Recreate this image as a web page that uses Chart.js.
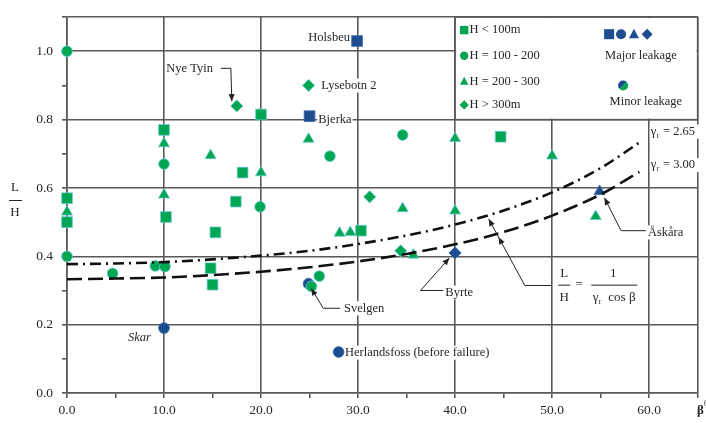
<!DOCTYPE html>
<html><head><meta charset="utf-8">
<script src="https://cdn.jsdelivr.net/npm/chart.js@4/dist/chart.umd.min.js"></script>
<style>html,body{margin:0;padding:0;background:#fff}canvas{display:block}</style>
</head><body>
<canvas id="c" width="706" height="423"></canvas>
<script>
// ---- data (β in degrees, L/H) ----
const sqX = [0, 0, 10, 10.2, 14.8, 15.0, 15.3, 17.4, 18.1, 20, 30.3, 44.7];
const sqY = [0.57, 0.50, 0.77, 0.515, 0.365, 0.317, 0.47, 0.56, 0.645, 0.815, 0.475, 0.75];
const ciX = [0, 0, 4.7, 9.1, 10.1, 10, 19.9, 25.2, 26.0, 27.1, 34.6];
const ciY = [1.0, 0.40, 0.35, 0.372, 0.37, 0.67, 0.545, 0.312, 0.342, 0.693, 0.755];
const trX = [0, 10, 10, 14.8, 20, 24.9, 28.1, 29.2, 35.7, 34.6, 40, 40, 50, 54.5];
const trY = [0.53, 0.73, 0.58, 0.695, 0.645, 0.743, 0.468, 0.47, 0.404, 0.54, 0.533, 0.745, 0.694, 0.517];
const diX = [17.5, 24.9, 31.2, 34.4];
const diY = [0.84, 0.90, 0.574, 0.416];
const majSqX = [29.9, 25.0];
const majSqY = [1.03, 0.81];
const majCiX = [10.0, 28.0, 24.9];
const majCiY = [0.19, 0.12, 0.32];
const majTrX = [54.9];
const majTrY = [0.59];
const majDiX = [40.0];
const majDiY = [0.41];
const curveBeta = [0, 5, 10, 15, 20, 25, 30, 35, 40, 45, 50, 55, 59];
const curveG265 = [0.377, 0.379, 0.383, 0.391, 0.402, 0.416, 0.436, 0.461, 0.493, 0.534, 0.587, 0.658, 0.733];
const curveG300 = [0.333, 0.335, 0.338, 0.345, 0.355, 0.368, 0.385, 0.407, 0.435, 0.471, 0.519, 0.581, 0.647];
const xTickLabels = ['0.0', '10.0', '20.0', '30.0', '40.0', '50.0', '60.0'];
const yTickLabels = ['0.0', '0.2', '0.4', '0.6', '0.8', '1.0'];

const GREEN = '#00a651';
const BLUE = '#1d4d8f';
const GRID = '#595959';
const TXT = '#262626';
const SERIF = '"Liberation Serif","DejaVu Serif",serif';

const pts = (xs, ys) => xs.map((x, i) => ({x, y: ys[i]}));

function marker(xs, ys, style, r, color, order, label) {
  return {label, type: 'scatter', data: pts(xs, ys), pointStyle: style, pointRadius: r, pointHoverRadius: r,
    backgroundColor: color, borderColor: color === GREEN ? '#6fc9d6' : '#3a6db0', borderWidth: 0.8, order, clip: false};
}

const annot = {
  id: 'annot',
  beforeDatasetsDraw(chart) {
    const {ctx} = chart; const xs = chart.scales.x, ys = chart.scales.y;
    const X = v => xs.getPixelForValue(v), Y = v => ys.getPixelForValue(v);
    ctx.save();
    // legend box
    const lx0 = X(40), lx1 = X(65), ly0 = Y(1.1), ly1 = Y(0.8);
    ctx.fillStyle = '#fff'; ctx.fillRect(lx0 + 1, ly0 + 1, lx1 - lx0 - 2, ly1 - ly0 - 2);
    ctx.strokeStyle = GRID; ctx.lineWidth = 1.5; ctx.strokeRect(lx0, ly0, lx1 - lx0, ly1 - ly0);
    const rows = [['rect', 'H < 100m', 1.062], ['circle', 'H = 100 - 200', 0.987], ['triangle', 'H = 200 - 300', 0.912], ['rectRot', 'H > 300m', 0.843]];
    ctx.font = '12.5px ' + SERIF; ctx.textBaseline = 'middle';
    rows.forEach(r => {
      shape(ctx, r[0], X(40.94), Y(r[2]), 4.2, GREEN);
      ctx.fillStyle = TXT; ctx.textAlign = 'left'; ctx.fillText(r[1], X(41.5), Y(r[2]));
    });
    ['rect', 'circle', 'triangle', 'rectRot'].forEach((s, i) => shape(ctx, s, X([55.88, 57.11, 58.44, 59.8][i]), Y(1.05), 5, BLUE));
    ctx.fillStyle = TXT; ctx.textAlign = 'center';
    ctx.fillText('Major leakage', X(59.16), Y(0.987));
    ctx.fillText('Minor leakage', X(59.67), Y(0.851));
    // minor leakage icon
    const mx = X(57.32), my = Y(0.900);
    ctx.beginPath(); ctx.moveTo(mx, my); ctx.arc(mx, my, 5, Math.PI * 0.75, Math.PI * 1.75); ctx.closePath(); ctx.fillStyle = BLUE; ctx.fill();
    ctx.beginPath(); ctx.moveTo(mx, my); ctx.arc(mx, my, 5, -Math.PI * 0.25, Math.PI * 0.75); ctx.closePath(); ctx.fillStyle = GREEN; ctx.fill();

    // text labels
    const labels = [
      ['Holsbeu', 29.17, 1.039, 'right'],
      ['Nye Tyin', 10.24, 0.9495, 'left'],
      ['Lysebotn 2', 26.2, 0.900, 'left'],
      ['Bjerka', 25.9, 0.799, 'left'],
      ['Skar', 7.47, 0.162, 'center', true],
      ['Svelgen', 28.56, 0.248, 'left'],
      ['Herlandsfoss (before failure)', 28.66, 0.118, 'left'],
      ['Byrte', 39.0, 0.294, 'left'],
      ['Åskåra', 59.88, 0.470, 'left']
    ];
    labels.forEach(l => txt(ctx, l[0], X(l[1]), Y(l[2]), l[3], l[4]));
    // gamma labels
    [['2.65', 0.765], ['3.00', 0.667]].forEach(g => {
      const x = X(60.18), y = Y(g[1]);
      ctx.font = '12.5px ' + SERIF;
      const w = 56; ctx.fillStyle = '#fff'; ctx.fillRect(x - 1, y - 7, w, 14);
      ctx.fillStyle = TXT; ctx.textAlign = 'left'; ctx.textBaseline = 'middle';
      ctx.fillText('γ', x, y);
      ctx.font = '8px ' + SERIF; ctx.fillText('r', x + 6, y + 4);
      ctx.font = '12.5px ' + SERIF; ctx.fillText(' = ' + g[0], x + 9, y);
    });
    // formula
    const fx = X(51.25), fy = Y(0.32);
    ctx.fillStyle = '#fff'; ctx.fillRect(fx - 8, fy - 17, 85, 34);
    ctx.fillStyle = TXT; ctx.font = '13px ' + SERIF; ctx.textAlign = 'center'; ctx.textBaseline = 'middle';
    ctx.fillText('L', fx, fy - 10); ctx.fillText('H', fx, fy + 14);
    ctx.fillText('=', fx + 15, fy + 1);
    ctx.fillText('1', fx + 49, fy - 10);
    ctx.fillText('γ   cos β', fx + 50, fy + 14);
    ctx.font = '8px ' + SERIF; ctx.fillText('r', fx + 36, fy + 18);
    ctx.strokeStyle = TXT; ctx.lineWidth = 1;
    ctx.beginPath(); ctx.moveTo(fx - 6, fy + 1.5); ctx.lineTo(fx + 6, fy + 1.5); ctx.stroke();
    ctx.beginPath(); ctx.moveTo(fx + 27, fy + 1.5); ctx.lineTo(fx + 73, fy + 1.5); ctx.stroke();
    // y-axis title
    ctx.font = '13px ' + SERIF; ctx.fillStyle = TXT;
    ctx.fillText('L', 15, 188); ctx.fillText('H', 15, 213);
    ctx.beginPath(); ctx.moveTo(9, 200.5); ctx.lineTo(22, 200.5); ctx.stroke();
    // beta label
    ctx.textAlign = 'left'; ctx.font = 'bold 13px ' + SERIF; ctx.fillText('β', 697, 411);
    ctx.font = '8px ' + SERIF; ctx.fillText('0', 704, 404);
    ctx.restore();
  },
  afterDatasetsDraw(chart) {
    const {ctx} = chart; const xs = chart.scales.x, ys = chart.scales.y;
    const P = (a, b) => [xs.getPixelForValue(a), ys.getPixelForValue(b)];
    ctx.save(); ctx.strokeStyle = '#222'; ctx.fillStyle = '#222'; ctx.lineWidth = 1;
    const leaders = [
      [[15.87, 0.95], [16.89, 0.95], [16.99, 0.854]],
      [[28.15, 0.248], [26.41, 0.248], [25.18, 0.306]],
      [[38.79, 0.300], [36.44, 0.300], [39.41, 0.395]],
      [[59.67, 0.475], [57.11, 0.475], [55.4, 0.571]],
      [[49.95, 0.3146], [47.19, 0.3146], [43.47, 0.509]]
    ];
    leaders.forEach(L => {
      const p = L.map(q => P(q[0], q[1]));
      ctx.beginPath(); ctx.moveTo(p[0][0], p[0][1]);
      for (let i = 1; i < p.length; i++) ctx.lineTo(p[i][0], p[i][1]);
      ctx.stroke();
      arrow(ctx, p[p.length - 2], p[p.length - 1]);
    });
    // mid arrow on formula leader
    arrow(ctx, P(47.19, 0.3146), P(44.49, 0.456));
    ctx.restore();
  }
};

function arrow(ctx, from, to) {
  const a = Math.atan2(to[1] - from[1], to[0] - from[0]);
  const L = 7, W = 3;
  ctx.beginPath();
  ctx.moveTo(to[0], to[1]);
  ctx.lineTo(to[0] - L * Math.cos(a) + W * Math.sin(a), to[1] - L * Math.sin(a) - W * Math.cos(a));
  ctx.lineTo(to[0] - L * Math.cos(a) - W * Math.sin(a), to[1] - L * Math.sin(a) + W * Math.cos(a));
  ctx.closePath(); ctx.fill();
}

function txt(ctx, s, x, y, align, italic) {
  ctx.font = (italic ? 'italic ' : '') + '12.5px ' + SERIF;
  const w = ctx.measureText(s).width;
  const x0 = align === 'left' ? x : align === 'right' ? x - w : x - w / 2;
  ctx.fillStyle = '#fff'; ctx.fillRect(x0 - 1, y - 7, w + 2, 14);
  ctx.fillStyle = TXT; ctx.textAlign = align; ctx.textBaseline = 'middle';
  ctx.fillText(s, x, y);
}

function shape(ctx, s, x, y, r, color) {
  ctx.fillStyle = color; ctx.beginPath();
  if (s === 'rect') ctx.rect(x - r, y - r, 2 * r, 2 * r);
  else if (s === 'circle') ctx.arc(x, y, r, 0, Math.PI * 2);
  else if (s === 'triangle') { ctx.moveTo(x, y - r * 1.1); ctx.lineTo(x + r, y + r * 0.8); ctx.lineTo(x - r, y + r * 0.8); ctx.closePath(); }
  else { ctx.moveTo(x, y - r * 1.1); ctx.lineTo(x + r * 1.1, y); ctx.lineTo(x, y + r * 1.1); ctx.lineTo(x - r * 1.1, y); ctx.closePath(); }
  ctx.fill();
}

const tickGridX = c => { const v = c.tick.value; return (v % 10 === 0 || v === 65) ? GRID : 'rgba(0,0,0,0)'; };
const tickGridY = c => { const k = Math.round(c.tick.value * 10); return (k % 2 === 0 || k === 11) ? GRID : 'rgba(0,0,0,0)'; };

new Chart(document.getElementById('c'), {
  type: 'scatter',
  data: {
    datasets: [
      {label: 'γr = 2.65', type: 'line', data: pts(curveBeta, curveG265), borderColor: '#111', borderWidth: 2.6,
        borderDash: [11, 5, 2, 5], pointRadius: 0, cubicInterpolationMode: 'monotone', showLine: true, fill: false, order: 0},
      {label: 'γr = 3.00', type: 'line', data: pts(curveBeta, curveG300), borderColor: '#111', borderWidth: 2.6,
        borderDash: [15, 6], pointRadius: 0, cubicInterpolationMode: 'monotone', showLine: true, fill: false, order: 0},
      marker(sqX, sqY, 'rect', 7.6, GREEN, 2, 'H < 100m'),
      marker(ciX, ciY, 'circle', 5.4, GREEN, 2, 'H = 100 - 200'),
      marker(trX, trY, 'triangle', 6.4, GREEN, 2, 'H = 200 - 300'),
      marker(diX, diY, 'rectRot', 6.1, GREEN, 2, 'H > 300m'),
      marker(majSqX, majSqY, 'rect', 7.6, BLUE, 3, 'Major leakage (H < 100m)'),
      marker(majCiX, majCiY, 'circle', 5.4, BLUE, 3, 'Major leakage (H = 100 - 200)'),
      marker(majTrX, majTrY, 'triangle', 6.4, BLUE, 3, 'Major leakage (H = 200 - 300)'),
      marker(majDiX, majDiY, 'rectRot', 6.1, BLUE, 3, 'Major leakage (H > 300m)')
    ]
  },
  options: {
    responsive: false, animation: false, devicePixelRatio: 1,
    layout: {padding: {top: 12, right: 4, left: 0, bottom: 0}},
    plugins: {legend: {display: false}, tooltip: {enabled: false}},
    scales: {
      x: {
        type: 'linear', min: 0, max: 65,
        afterFit: s => { s.height = 30; },
        ticks: {stepSize: 5, autoSkip: false, maxRotation: 0, padding: 4, color: TXT, font: {family: SERIF, size: 13.5},
          callback: v => (v % 10 === 0 && v <= 60) ? xTickLabels[v / 10] : ''},
        grid: {color: tickGridX, tickColor: GRID, lineWidth: 1.6, tickLength: 5},
        border: {display: true, color: GRID, width: 1.6}
      },
      y: {
        type: 'linear', min: 0, max: 1.1,
        afterFit: s => { s.width = 67; },
        ticks: {stepSize: 0.1, autoSkip: false, padding: 9, color: TXT, font: {family: SERIF, size: 13.5},
          callback: v => { const k = Math.round(v * 10); return (k % 2 === 0 && k <= 10) ? yTickLabels[k / 2] : ''; }},
        grid: {color: tickGridY, tickColor: GRID, lineWidth: 1.6, tickLength: 5},
        border: {display: true, color: GRID, width: 1.6}
      }
    }
  },
  plugins: [annot]
});
</script>
</body></html>
